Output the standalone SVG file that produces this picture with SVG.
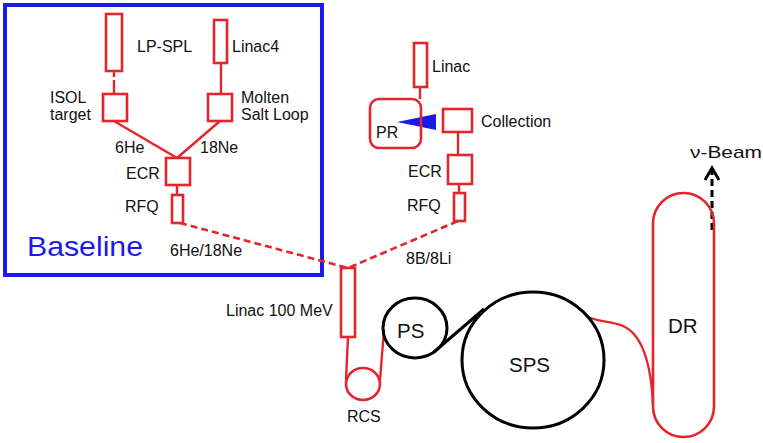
<svg xmlns="http://www.w3.org/2000/svg" width="763" height="443" viewBox="0 0 763 443">
<style>
.r{fill:none;stroke:#e3262d;stroke-width:2.6}
.rl{fill:none;stroke:#e3262d;stroke-width:2.4}
.dash{fill:none;stroke:#e3262d;stroke-width:2.6;stroke-dasharray:7,4}
.k{fill:none;stroke:#000;stroke-width:3}
.t{font-family:"Liberation Sans",Arial,sans-serif;font-size:16px;fill:#111}
.big{font-family:"Liberation Sans",Arial,sans-serif;font-size:20.5px;fill:#111}
</style>
<rect width="763" height="443" fill="#fff"/>
<g id="baseline-box">
<rect x="5" y="5" width="317" height="270" fill="none" stroke="#1a1aee" stroke-width="4"/>
<text x="27" y="256" font-family="'Liberation Sans',Arial,sans-serif" font-size="28" fill="#1a1aee" textLength="116" lengthAdjust="spacingAndGlyphs">Baseline</text>
</g>
<g id="connectors">
<line class="rl" x1="114" y1="71" x2="114" y2="77"/>
<line class="rl" x1="114" y1="80" x2="114" y2="94"/>
<line class="rl" x1="221" y1="63" x2="221" y2="94"/>
<line class="rl" x1="114" y1="121" x2="177" y2="158"/>
<line class="rl" x1="220" y1="121" x2="177" y2="158"/>
<line class="rl" x1="177" y1="185" x2="177" y2="195"/>
<path class="dash" d="M180,223 L348,268 L458,221"/>
<line class="rl" x1="420" y1="87" x2="420" y2="99"/>
<line class="rl" x1="458" y1="132" x2="458" y2="155"/>
<line class="rl" x1="459" y1="184" x2="459" y2="193"/>
<line class="rl" x1="348" y1="337" x2="346" y2="380"/>
<line class="rl" x1="380" y1="380" x2="384" y2="330"/>
<line class="k" x1="434" y1="352" x2="484" y2="309"/>
<path class="rl" d="M586,316 C596,322 612,321 623,326 C641,334 651,360 653,405"/>
<g fill="none" stroke="#000" stroke-width="3">
<line x1="712" y1="230" x2="712" y2="170" stroke-dasharray="7,4"/>
<polyline points="705,180 712,168 719,180"/>
</g>
<polygon points="397,122 436,114 436,130" fill="#1a1ae6"/>
</g>
<g id="lp-spl"><rect class="r" x="106" y="14" width="16" height="57"/><text class="t" x="137" y="52">LP-SPL</text></g>
<g id="linac4"><rect class="r" x="214" y="20" width="13" height="43"/><text class="t" x="232" y="52">Linac4</text></g>
<g id="isol"><rect class="r" x="103" y="94" width="24" height="27"/><text class="t" x="50" y="103">ISOL</text><text class="t" x="50" y="120">target</text></g>
<g id="molten"><rect class="r" x="208" y="94" width="24" height="27"/><text class="t" x="241" y="103">Molten</text><text class="t" x="241" y="120">Salt Loop</text></g>
<g id="label-6he"><text class="t" x="115" y="153">6He</text></g>
<g id="label-18ne"><text class="t" x="200" y="153">18Ne</text></g>
<g id="ecr-left"><rect class="r" x="166" y="158" width="24" height="27"/><text class="t" x="126" y="179">ECR</text></g>
<g id="rfq-left"><rect class="r" x="172" y="195" width="11" height="28"/><text class="t" x="125" y="212">RFQ</text></g>
<g id="label-6he18ne"><text class="t" x="170" y="256">6He/18Ne</text></g>
<g id="linac"><rect class="r" x="414" y="43" width="13" height="44"/><text class="t" x="432" y="72">Linac</text></g>
<g id="pr"><rect class="r" x="370" y="99" width="51" height="49" rx="9"/><text class="t" x="376" y="138" font-size="17">PR</text></g>
<g id="collection"><rect class="r" x="443" y="109" width="29" height="23"/><text class="t" x="481" y="127">Collection</text></g>
<g id="ecr-right"><rect class="r" x="448" y="155" width="24" height="29"/><text class="t" x="408" y="177">ECR</text></g>
<g id="rfq-right"><rect class="r" x="454" y="193" width="11" height="28"/><text class="t" x="407" y="211">RFQ</text></g>
<g id="label-8b8li"><text class="t" x="406" y="264">8B/8Li</text></g>
<g id="linac100"><rect class="r" x="341" y="268" width="14" height="69"/><text class="t" x="226" y="316">Linac 100 MeV</text></g>
<g id="rcs"><ellipse class="r" cx="363" cy="384" rx="17" ry="16"/><text class="t" x="347" y="422">RCS</text></g>
<g id="ps"><ellipse class="k" cx="415" cy="328" rx="32" ry="30"/><text class="big" x="397" y="338">PS</text></g>
<g id="sps"><ellipse class="k" cx="533" cy="360" rx="71" ry="68"/><text class="big" x="509" y="372">SPS</text></g>
<g id="dr"><rect class="r" x="653" y="193" width="61" height="244" rx="30.5"/><text class="big" x="668" y="333">DR</text></g>
<g id="nu-beam"><text x="690" y="158" font-family="'Liberation Sans',Arial,sans-serif" font-size="17" fill="#111" textLength="72" lengthAdjust="spacingAndGlyphs">ν-Beam</text></g>
</svg>
